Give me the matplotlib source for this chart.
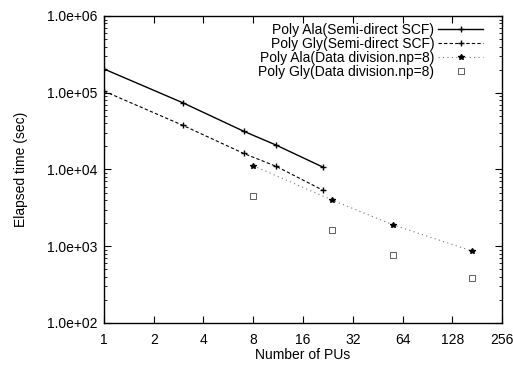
import numpy as np
import matplotlib.pyplot as plt
from matplotlib.ticker import FixedLocator, FuncFormatter, LogLocator, NullFormatter

plt.rcParams['font.family'] = ['Liberation Sans', 'DejaVu Sans']

# Semi-direct SCF
pus_semi = [1, 3, 7, 11, 21]
ala_semi = [2.04e5, 7.4e4, 3.15e4, 2.08e4, 1.08e4]
gly_semi = [1.05e5, 3.76e4, 1.62e4, 1.1e4, 5.4e3]

# Data division, np=8
pus_dd = [8, 24, 56, 168]
ala_dd = [1.12e4, 4.0e3, 1.9e3, 8.7e2]
gly_dd = [4.55e3, 1.61e3, 7.7e2, 3.9e2]

xticks = [1, 2, 4, 8, 16, 32, 64, 128, 256]

fig = plt.figure(figsize=(5.13, 3.66), dpi=100)
ax = fig.add_axes([0.2027, 0.1175, 0.7759, 0.8388])

ax.plot(pus_semi, ala_semi, color='black', linestyle='-', linewidth=1.0,
        marker='+', markersize=5, label='Poly Ala(Semi-direct SCF)')
ax.plot(pus_semi, gly_semi, color='black', linestyle=(0, (3, 2)), linewidth=0.8,
        marker='+', markersize=4, label='Poly Gly(Semi-direct SCF)')
ax.plot(pus_dd, ala_dd, color='#777777', linestyle=(0, (1, 3)), linewidth=0.8,
        marker='*', markersize=4, markerfacecolor='black', markeredgecolor='black',
        label='Poly Ala(Data division.np=8)')
ax.plot(pus_dd, gly_dd, color='#444444', linestyle='none',
        marker='s', markersize=4, markerfacecolor='none', markeredgewidth=0.6,
        label='Poly Gly(Data division.np=8)')

ax.set_xscale('log', base=2)
ax.set_yscale('log')
ax.set_xlim(1, 256)
ax.set_ylim(1e2, 1e6)

ax.xaxis.set_major_locator(FixedLocator(xticks))
ax.xaxis.set_major_formatter(FuncFormatter(lambda v, p: f'{int(round(v))}'))
ax.xaxis.set_minor_locator(FixedLocator([]))
ax.yaxis.set_major_locator(LogLocator(base=10, numticks=10))
ax.yaxis.set_major_formatter(FuncFormatter(lambda v, p: f'{v:.1e}'))
ax.yaxis.set_minor_locator(LogLocator(base=10, subs=np.arange(2, 10), numticks=20))
ax.yaxis.set_minor_formatter(NullFormatter())

ax.tick_params(which='both', direction='in', top=True, right=True, labelsize=10)
ax.tick_params(which='major', length=5, width=0.8)
ax.tick_params(which='minor', length=2.5, width=0.6)
ax.tick_params(axis='x', pad=7.5)
ax.tick_params(axis='y', pad=5)

for s in ax.spines.values():
    s.set_linewidth(1.0)

ax.set_xlabel('Number of PUs', fontsize=10, labelpad=0.5)
ax.set_ylabel('Elapsed time (sec)', fontsize=10, labelpad=13)

ax.legend(loc='upper right', frameon=False, markerfirst=False, fontsize=10,
          handlelength=3.2, labelspacing=0.0, borderaxespad=0.0, borderpad=0.4,
          handletextpad=0.3, bbox_to_anchor=(0.966, 0.995))
for t in ax.get_legend().get_texts():
    t.set_ha('right')

fig.savefig('out.png', dpi=100)
